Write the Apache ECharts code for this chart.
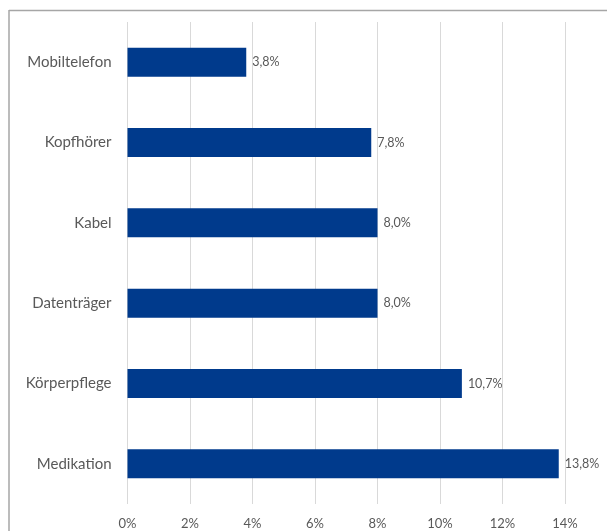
<!DOCTYPE html>
<html>
<head>
<meta charset="utf-8">
<script src="https://cdn.jsdelivr.net/npm/echarts@6/dist/echarts.min.js"></script>
<style>
  html, body { margin: 0; padding: 0; background: #ffffff; }
  #chart { width: 607px; height: 531px; }
</style>
</head>
<body>
<div id="chart"></div>
<script>
// Shares per product category (percent), listed top to bottom
const categories = ['Mobiltelefon', 'Kopfhörer', 'Kabel', 'Datenträger', 'Körperpflege', 'Medikation'];
const shares = [3.8, 7.8, 8.0, 8.0, 10.7, 13.8];
const axisMin = 0;
const axisMax = 16;
const axisStep = 2;

const textColor = '#595959';
const fontFamily = 'Lato, "Open Sans", sans-serif';

const fmtPct = (v, digits) => v.toFixed(digits).replace('.', ',') + '%';

const chart = echarts.init(document.getElementById('chart'), null, { renderer: 'canvas' });

chart.setOption({
  backgroundColor: '#ffffff',
  animation: false,
  // plot area runs past the right edge; the 16% end is outside the canvas
  grid: { left: 127.5, width: 500, top: 22, height: 482, containLabel: false, outerBoundsMode: 'none' },
  xAxis: {
    type: 'value',
    min: axisMin,
    max: axisMax,
    interval: axisStep,
    axisLine: { show: false },
    axisTick: { show: false },
    splitLine: { show: true, lineStyle: { color: '#d9d9d9', width: 1 } },
    axisLabel: {
      color: textColor,
      fontFamily: fontFamily,
      fontSize: 13,
      margin: 13,
      formatter: v => (v >= axisMax ? '' : Math.round(v) + '%')
    }
  },
  yAxis: {
    type: 'category',
    inverse: true,
    data: categories,
    axisLine: { show: false },
    axisTick: { show: false },
    splitLine: { show: false },
    axisLabel: {
      color: textColor,
      fontFamily: fontFamily,
      fontSize: 15,
      margin: 16
    }
  },
  series: [{
    type: 'bar',
    data: shares,
    barWidth: 29,
    itemStyle: { color: '#003a8c' },
    label: {
      show: true,
      position: 'right',
      distance: 6,
      color: textColor,
      fontFamily: fontFamily,
      fontSize: 12.5,
      formatter: p => fmtPct(p.value, 1)
    }
  }],
  graphic: [
    { type: 'line', shape: { x1: 9, y1: 10.5, x2: 607, y2: 10.5 }, style: { stroke: '#a6a6a6', lineWidth: 1.5 } },
    { type: 'line', shape: { x1: 9, y1: 10, x2: 9, y2: 531 }, style: { stroke: '#a6a6a6', lineWidth: 1.5 } }
  ]
});
</script>
</body>
</html>
